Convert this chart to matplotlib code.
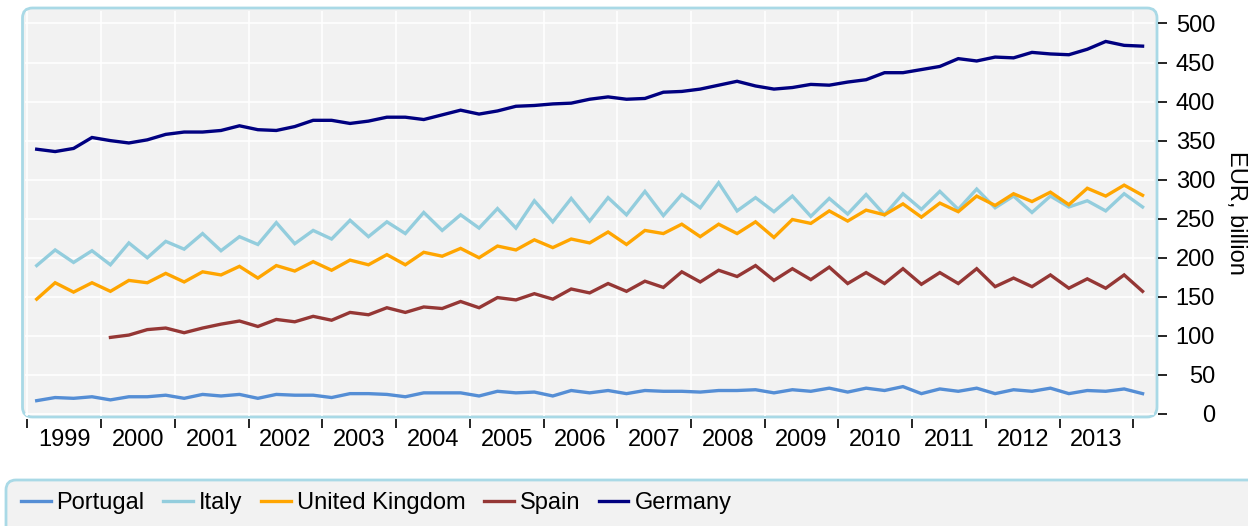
import numpy as np
import matplotlib.pyplot as plt
from matplotlib.patches import FancyBboxPatch

plt.rcParams['font.family'] = ['Liberation Sans', 'DejaVu Sans']

# quarterly values, 1999 Q1 .. 2014 Q1
years = [str(y) for y in range(1999, 2014)]

portugal = [17, 21, 20, 22, 18, 22, 22, 24, 20, 25, 23, 25, 20, 25, 24,
            24, 21, 26, 26, 25, 22, 27, 27, 27, 23, 29, 27, 28, 23, 30,
            27, 30, 26, 30, 29, 29, 28, 30, 30, 31, 27, 31, 29, 33, 28,
            33, 30, 35, 26, 32, 29, 33, 26, 31, 29, 33, 26, 30, 29, 32, 26]
italy = [190, 210, 194, 209, 191, 219, 200, 221, 211, 231, 209, 227, 217, 245, 218,
         235, 224, 248, 227, 246, 231, 258, 235, 255, 238, 263, 238, 273, 246, 276,
         247, 277, 255, 285, 254, 281, 264, 296, 260, 277, 259, 279, 253, 276, 256,
         281, 255, 282, 262, 285, 262, 288, 264, 279, 258, 279, 265, 273, 260, 282, 265]
uk = [147, 168, 156, 168, 157, 171, 168, 180, 169, 182, 178, 189, 174, 190, 183,
      195, 184, 197, 191, 204, 191, 207, 202, 212, 200, 215, 210, 223, 213, 224,
      219, 233, 217, 235, 231, 243, 227, 243, 231, 246, 226, 249, 244, 260, 247,
      261, 255, 269, 252, 270, 259, 279, 267, 282, 272, 284, 268, 289, 279, 293, 280]
spain = [np.nan, np.nan, np.nan, np.nan,
         98, 101, 108, 110, 104, 110, 115, 119, 112, 121, 118,
         125, 120, 130, 127, 136, 130, 137, 135, 144, 136, 149, 146, 154, 147, 160,
         155, 167, 157, 170, 162, 182, 169, 184, 176, 190, 171, 186, 172, 188, 167,
         181, 167, 186, 166, 181, 167, 186, 163, 174, 163, 178, 161, 173, 161, 178, 157]
germany = [339, 336, 340, 354, 350, 347, 351, 358, 361, 361, 363, 369, 364, 363, 368,
           376, 376, 372, 375, 380, 380, 377, 383, 389, 384, 388, 394, 395, 397, 398,
           403, 406, 403, 404, 412, 413, 416, 421, 426, 420, 416, 418, 422, 421, 425,
           428, 437, 437, 441, 445, 455, 452, 457, 456, 463, 461, 460, 467, 477, 472, 471]

series = [("Portugal", portugal, "#558ed5"),
          ("Italy", italy, "#93cddd"),
          ("United Kingdom", uk, "#ffa500"),
          ("Spain", spain, "#953735"),
          ("Germany", germany, "#000080")]

W, H = 1248, 526
fig = plt.figure(figsize=(W / 100, H / 100), dpi=100)


def rect(x0, y0, x1, y1):
    return [x0 / W, 1 - y1 / H, (x1 - x0) / W, (y1 - y0) / H]


# rounded plot background + legend box (pixel coords)
fig.add_artist(FancyBboxPatch((22.5, H - 417), 1157 - 22.5, 417 - 8,
                              boxstyle="round,pad=0,rounding_size=10", transform=None,
                              fc="#f2f2f2", ec="#a9d9e6", lw=2, zorder=-1))
fig.add_artist(FancyBboxPatch((6, -30), 1270, H - 480 + 30,
                              boxstyle="round,pad=0,rounding_size=10", transform=None,
                              fc="#f2f2f2", ec="#a9d9e6", lw=2, zorder=-1))

ax = fig.add_axes(rect(25, 11, 1154, 415.5))
ax.patch.set_visible(False)

x = np.arange(len(germany))
handles = []
for name, vals, col in series:
    h, = ax.plot(x, vals, color=col, lw=2.4, label=name, solid_joinstyle="miter")
    handles.append(h)

ax.set_xlim(-0.635, 60.62)
ax.set_ylim(-2, 516)

# spine positions first (set_position resets the ticks)
for s in ax.spines.values():
    s.set_visible(False)
ax.spines["bottom"].set_position(("outward", 2.2))
ax.spines["right"].set_position(("outward", 3))

major = np.arange(len(years) + 1) * 4 - 0.5
ax.set_xticks(major)
ax.set_xticklabels([])
ax.set_xticks(major[:-1] + 2, minor=True)
ax.set_xticklabels(years, minor=True)
ax.tick_params(axis="x", which="major", direction="out", length=6.5, width=1.2, color="black")
ax.tick_params(axis="x", which="minor", length=0, pad=7.5, labelsize=17)

ax.yaxis.tick_right()
yt = np.arange(0, 501, 50)
ax.tick_params(axis="y", direction="out", length=6.5, width=1.2, pad=34.5, labelsize=17)
ax.set_yticks(yt)
ax.set_yticklabels([str(v) for v in yt], ha="right")

ax.grid(True, which="major", color="white", lw=1.2)
ax.set_axisbelow(True)

fig.text(1236 / W, 1 - 213 / H, "EUR, billion", rotation=270, ha="center", va="center", fontsize=17)

fig.legend(handles, [s[0] for s in series], loc="center left",
           bbox_to_anchor=(21 / W, 1 - 503 / H), ncol=5, frameon=False, fontsize=17,
           handlelength=1.25, handletextpad=0.25, columnspacing=0.8,
           borderpad=0, borderaxespad=0)

fig.savefig("out.png", dpi=100)
